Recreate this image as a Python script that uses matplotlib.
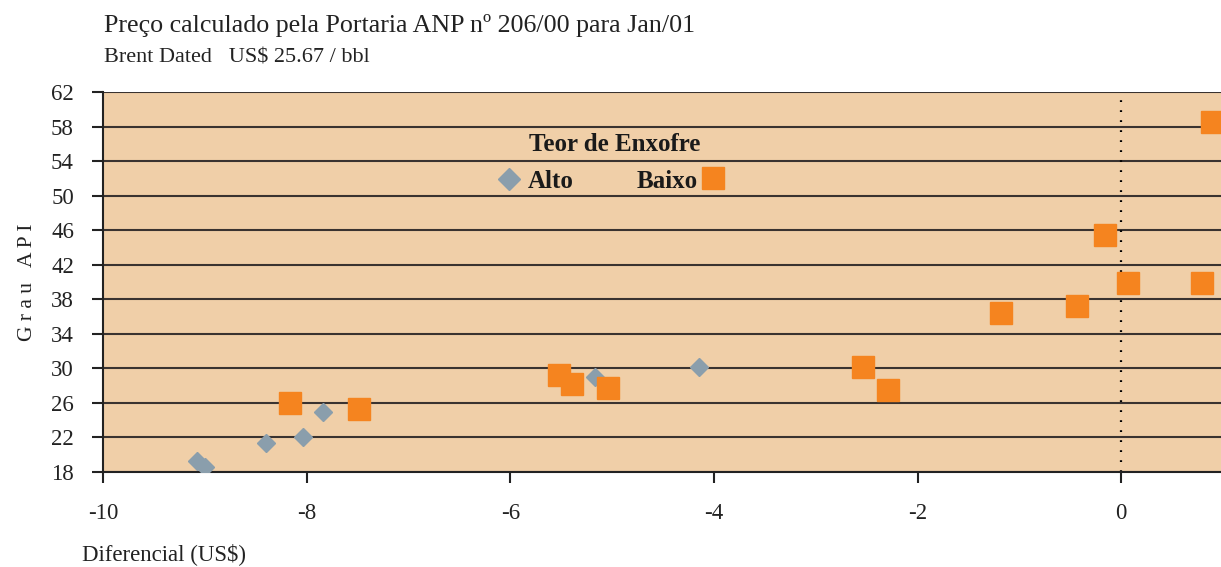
import numpy as np
import matplotlib
matplotlib.use("Agg")
import matplotlib.pyplot as plt

plt.rcParams["font.family"] = ["Liberation Serif", "DejaVu Serif"]

# Dados
alto_x = [-9.08, -9.00, -8.40, -8.04, -7.84, -5.17, -4.15]
alto_y = [19.3, 18.6, 21.4, 22.0, 24.9, 29.0, 30.1]

baixo_x = [-8.16, -7.49, -5.52, -5.39, -5.04, -2.54, -2.29,
           -1.18, -0.43, -0.16, 0.07, 0.79, 0.89]
baixo_y = [26.0, 25.3, 29.2, 28.2, 27.7, 30.1, 27.5,
           36.4, 37.2, 45.4, 39.9, 39.9, 58.5]

y_ticks = list(range(18, 63, 4))
x_ticks = [-10, -8, -6, -4, -2, 0]

fundo = "#F0CFA8"
laranja = "#F5841F"
cinza = "#8A9EAC"

fig = plt.figure(figsize=(12.21, 5.67), dpi=100)
ax = fig.add_axes([0.0844, 0.1676, 0.9156, 0.6701])
ax.set_facecolor(fundo)

for yt in y_ticks:
    ax.axhline(yt, color="#3a3330", lw=1.5, zorder=1)
ax.axvline(0, color="black", lw=1.6, linestyle=(0, (0.8, 3.7)), zorder=1)

ax.plot(alto_x, alto_y, "D", color=cinza, markersize=9.5, zorder=3)
ax.plot(baixo_x, baixo_y, "s", color=laranja, markersize=16, zorder=3)

ax.set_xlim(-10, 0.98)
ax.set_ylim(18, 62)
ax.set_xticks(x_ticks)
ax.set_xticklabels([str(t) for t in x_ticks])
ax.set_yticks(y_ticks)
ax.tick_params(axis="both", direction="out", length=8, width=1.5, labelsize=16.5, color="#222222",
               labelcolor="#222222")
ax.tick_params(axis="x", pad=14)
ax.tick_params(axis="y", pad=13)
for s in ["top", "right"]:
    ax.spines[s].set_visible(False)
for s in ["left", "bottom"]:
    ax.spines[s].set_linewidth(1.5)
    ax.spines[s].set_color("#222222")

ax.set_ylabel("G r a u   A P I", fontsize=15.5, labelpad=10, color="#222222")
fig.text(0.067, 0.012, "Diferencial (US$)", fontsize=16.5, ha="left", va="baseline", color="#222222")

fig.text(0.085, 0.944, "Preço calculado pela Portaria ANP nº 206/00 para Jan/01",
         fontsize=18.7, ha="left", va="baseline", color="#222222")
fig.text(0.085, 0.889, "Brent Dated   US$ 25.67 / bbl", fontsize=16,
         ha="left", va="baseline", color="#222222")

# legenda
ax.text(0.458, 0.861, "Teor de Enxofre", transform=ax.transAxes, fontsize=18,
        fontweight="bold", ha="center", va="center", color="#1a1a1a")
ax.plot([0.363], [0.770], "D", color=cinza, markersize=11, transform=ax.transAxes)
ax.text(0.380, 0.764, "Alto", transform=ax.transAxes, fontsize=18,
        fontweight="bold", ha="left", va="center", color="#1a1a1a")
ax.text(0.532, 0.764, "Baixo", transform=ax.transAxes, fontsize=18,
        fontweight="bold", ha="right", va="center", color="#1a1a1a")
ax.plot([0.546], [0.775], "s", color=laranja, markersize=16, transform=ax.transAxes)

fig.savefig("out.png", dpi=100)
